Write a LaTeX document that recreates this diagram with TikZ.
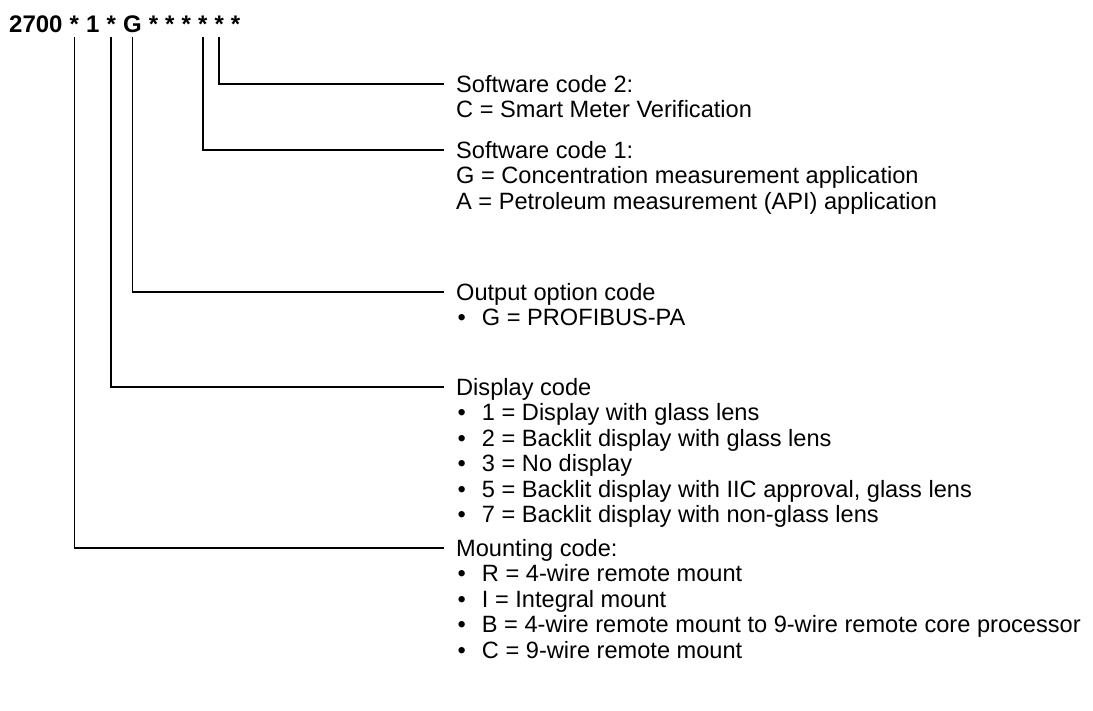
\documentclass[tikz,border=0pt]{standalone}
\usepackage{fontspec}
\setmainfont{Liberation Sans}
\usetikzlibrary{positioning}

\tikzset{
  lbl/.style={inner sep=0pt, text height=16.9pt, text depth=0pt,
    font=\fontsize{23.6}{25.5}\selectfont},
  ch/.style={lbl, font=\fontsize{24}{25.5}\selectfont\bfseries},
  head/.style={lbl, anchor=west},
  item/.style={lbl, anchor=base west},
  lead/.style={line width=1.5pt, shorten <=5pt, shorten >=12pt}
}
\newcommand{\bul}{\hspace{1.5pt}\textbullet\hspace{16pt}}

\begin{document}
\begin{tikzpicture}[x=1pt, y=-1pt, node distance=6.7pt]
\useasboundingbox (0,0) rectangle (1093,710);

% model code
\node[ch, anchor=base west] (num) at (9,32) {2700};
\node[ch, right=of num] (s1) {*};
\node[ch, right=of s1] (disp) {1};
\node[ch, right=of disp] (s2) {*};
\node[ch, right=of s2] (g) {G};
\node[ch, right=of g] (s3) {*};
\node[ch, right=of s3] (s4) {*};
\node[ch, right=of s4] (s5) {*};
\node[ch, right=of s5] (s6) {*};
\node[ch, right=of s6] (s7) {*};
\node[ch, right=of s7] (s8) {*};

% software code 2
\node[head] (sw2) at (456,84) {Software code 2:};
\node[item] (sw2a) at ([yshift=-25.5pt]sw2.base west) {C = Smart Meter Verification};

% software code 1
\node[head] (sw1) at (456,150) {Software code 1:};
\node[item] (sw1a) at ([yshift=-25.5pt]sw1.base west) {G = Concentration measurement application};
\node[item] (sw1b) at ([yshift=-25.5pt]sw1a.base west) {A = Petroleum measurement (API) application};

% output option
\node[head] (out) at (456,292) {Output option code};
\node[item] (out1) at ([yshift=-25.5pt]out.base west) {\bul G = PROFIBUS-PA};

% display
\node[head] (dsp) at (456,387) {Display code};
\foreach \t [count=\i] in {1 = Display with glass lens, 2 = Backlit display with glass lens,
    3 = No display, {5 = Backlit display with IIC approval, glass lens},
    7 = Backlit display with non-glass lens}
  \node[item] (dsp\i) at ([yshift=-\i*25.5pt]dsp.base west) {\bul\t};

% mounting
\node[head] (mnt) at (456,548) {Mounting code:};
\foreach \t [count=\i] in {R = 4-wire remote mount, I = Integral mount,
    B = 4-wire remote mount to 9-wire remote core processor, C = 9-wire remote mount}
  \node[item] (mnt\i) at ([yshift=-\i*25.5pt]mnt.base west) {\bul\t};

% leaders
\draw[lead] (s7.south) |- (sw2.west);
\draw[lead] (s6.south) |- (sw1.west);
\draw[lead] (g.south) |- (out.west);
\draw[lead] (s2.south) |- (dsp.west);
\draw[lead] (s1.south) |- (mnt.west);
\end{tikzpicture}
\end{document}
